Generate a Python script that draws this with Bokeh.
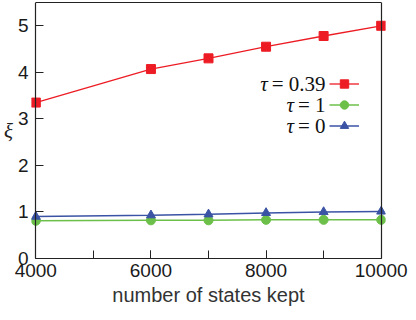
from bokeh.plotting import figure
from bokeh.models import (Range1d, SingleIntervalTicker, FixedTicker, LinearAxis,
                          Legend, LegendItem, Label, CustomLabelingPolicy)
from bokeh.core.properties import value
from bokeh.embed import file_html
from bokeh.resources import INLINE

states = [4000, 6000, 7000, 8000, 9000, 10000]
xi_tau039 = [3.35, 4.07, 4.30, 4.55, 4.78, 5.00]
xi_tau1 = [0.81, 0.82, 0.82, 0.83, 0.83, 0.83]
xi_tau0 = [0.90, 0.93, 0.95, 0.98, 1.00, 1.01]
series_names = ["0.39", "1", "0"]

X_MIN, X_MAX = 4000, 10000
Y_MIN, Y_MAX = 0, 5.5
PAD = 75  # room so that edge markers are not clipped

RED, GREEN, BLUE = "#ed1c24", "#6cc04a", "#3a53a4"
INK = "#222222"

p = figure(width=408, height=312, output_backend="svg", toolbar_location=None,
           x_range=Range1d(X_MIN - PAD, X_MAX + PAD), y_range=Range1d(Y_MIN, Y_MAX),
           min_border_left=28, min_border_right=23, min_border_top=2, min_border_bottom=54)
p.grid.visible = False
p.outline_line_color = None
p.background_fill_color = "white"

# bottom axis: ticks every 1000, labels every 2000
xa = p.xaxis[0]
xa.ticker = SingleIntervalTicker(interval=2000, num_minor_ticks=2)
xa.bounds = (X_MIN, X_MAX)
xa.axis_line_color = INK
xa.axis_line_width = 1.2
xa.major_tick_in = 8
xa.major_tick_out = 0
xa.minor_tick_in = 8
xa.minor_tick_out = 0
xa.major_tick_line_color = INK
xa.minor_tick_line_color = INK
xa.major_label_text_font = "Liberation Sans"
xa.major_label_text_font_size = "19px"
xa.major_label_text_color = "#1a1a1a"
xa.major_label_standoff = 5
xa.axis_label = "number of states kept"
xa.axis_label_text_font = "Liberation Sans"
xa.axis_label_text_font_style = "normal"
xa.axis_label_text_font_size = "20px"
xa.axis_label_text_color = "#333333"
xa.axis_label_standoff = 4

# left axis: labels only (the line and ticks are drawn at x = 4000 below)
ya = p.yaxis[0]
ya.ticker = SingleIntervalTicker(interval=1, num_minor_ticks=0)
ya.axis_line_color = None
ya.major_tick_line_color = None
ya.minor_tick_line_color = None
ya.major_tick_in = 0
ya.major_tick_out = 0
ya.major_label_text_font = "Liberation Sans"
ya.major_label_text_font_size = "19px"
ya.major_label_text_color = "#1a1a1a"
ya.major_label_standoff = 3
ya.axis_label = "ξ"
ya.axis_label_orientation = "horizontal"
ya.axis_label_text_font = "Liberation Serif"
ya.axis_label_text_font_style = "italic"
ya.axis_label_text_font_size = "21px"
ya.axis_label_text_color = INK
ya.axis_label_standoff = 2

hide_labels = CustomLabelingPolicy(code="for (const i of indices) indices.unset(i)")

# y axis line with inward ticks, placed at x = 4000 (its labels come from the left axis)
yline = LinearAxis(ticker=SingleIntervalTicker(interval=1, num_minor_ticks=0),
                   fixed_location=X_MIN, axis_line_color=INK, axis_line_width=1.2,
                   major_tick_line_color=INK, major_tick_in=0, major_tick_out=8,
                   minor_tick_line_color=None, major_label_text_font_size="1px",
                   major_label_standoff=0, major_label_policy=hide_labels)
p.add_layout(yline, "right")

# frame lines on the top and right, without ticks
top = LinearAxis(ticker=FixedTicker(ticks=[]), bounds=(X_MIN, X_MAX),
                 axis_line_color=INK, axis_line_width=1.2,
                 major_tick_line_color=None, minor_tick_line_color=None,
                 major_label_standoff=0)
right = LinearAxis(ticker=FixedTicker(ticks=[]), fixed_location=X_MAX,
                   axis_line_color=INK, axis_line_width=1.2,
                   major_tick_line_color=None, minor_tick_line_color=None,
                   major_label_standoff=0)
p.add_layout(top, "above")
p.add_layout(right, "right")

l1 = p.line(states, xi_tau039, line_color=RED, line_width=1.3)
s1 = p.scatter(states, xi_tau039, marker="square", size=9, fill_color=RED, line_color=RED)
l2 = p.line(states, xi_tau1, line_color=GREEN, line_width=1.5)
s2 = p.scatter(states, xi_tau1, marker="circle", size=9, fill_color=GREEN, line_color=GREEN)
l3 = p.line(states, xi_tau0, line_color=BLUE, line_width=1.5)
s3 = p.scatter(states, xi_tau0, marker="triangle", size=9, fill_color=BLUE, line_color=BLUE)

# legend keys (line + marker); the key texts sit to their left as labels below
legend = Legend(items=[LegendItem(label=value(" "), renderers=[l1, s1]),
                       LegendItem(label=value(" "), renderers=[l2, s2]),
                       LegendItem(label=value(" "), renderers=[l3, s3])],
                location=(298, 122), glyph_width=30, glyph_height=21, spacing=0,
                padding=0, margin=0, label_standoff=0, label_width=0, label_height=21,
                label_text_font_size="21px",
                background_fill_alpha=0, border_line_alpha=0)
p.add_layout(legend, "center")

row_y = [175, 154, 133]
num_w = {"0.39": 53.8, "1": 27.6, "0": 27.6}
for name, yy in zip(series_names, row_y):
    p.add_layout(Label(x=294, y=yy, x_units="screen", y_units="screen", text="= " + name,
                       text_align="right", text_baseline="middle",
                       text_font="Liberation Serif", text_font_size="21px", text_color="#111111"))
    p.add_layout(Label(x=294 - num_w[name] - 4, y=yy, x_units="screen", y_units="screen", text="τ",
                       text_align="right", text_baseline="middle",
                       text_font="Liberation Serif", text_font_style="italic",
                       text_font_size="21px", text_color="#111111"))

open("out.html", "w").write(file_html(p, INLINE))
